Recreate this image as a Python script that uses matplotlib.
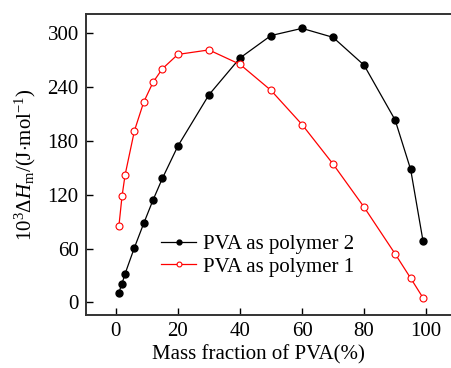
import matplotlib
matplotlib.use('Agg')
import matplotlib.pyplot as plt

plt.rcParams['font.family'] = ['Liberation Serif', 'DejaVu Serif']
plt.rcParams['mathtext.fontset'] = 'custom'
plt.rcParams['mathtext.rm'] = 'Liberation Serif'
plt.rcParams['mathtext.it'] = 'Liberation Serif:italic'
plt.rcParams['mathtext.bf'] = 'Liberation Serif:bold'

# PVA as polymer 2 (black, filled)
x_p2 = [1, 2, 3, 6, 9, 12, 15, 20, 30, 40, 50, 60, 70, 80, 90, 95, 99]
y_p2 = [11, 21, 32, 61, 88, 114, 138, 174, 231, 272, 297, 305, 295, 264, 203, 148, 68]

# PVA as polymer 1 (red, open)
x_p1 = [1, 2, 3, 6, 9, 12, 15, 20, 30, 40, 50, 60, 70, 80, 90, 95, 99]
y_p1 = [85, 118, 142, 191, 223, 245, 260, 276, 281, 265, 236, 198, 154, 106, 54, 27, 5]

xticks = [0, 20, 40, 60, 80, 100]
yticks = [0, 60, 120, 180, 240, 300]

fs = 15

fig = plt.figure(figsize=(4.51, 3.68), dpi=100)
ax = fig.add_axes([0.19, 0.144, 0.81, 0.818])

ax.plot(x_p2, y_p2, color='black', lw=0.9, marker='o', ms=5,
        mfc='black', mec='black', label='PVA as polymer 2')
ax.plot(x_p1, y_p1, color='red', lw=0.9, marker='o', ms=5,
        mfc='white', mec='red', mew=0.8, label='PVA as polymer 1')

ax.set_xlim(-9.7, 108)
ax.set_ylim(-14, 321)
ax.set_xticks(xticks)
ax.set_yticks(yticks)
ax.tick_params(direction='in', length=5, width=1, labelsize=fs, pad=5)
for s in ['left', 'bottom', 'top']:
    ax.spines[s].set_linewidth(1.4)
    ax.spines[s].set_color('#333333')
ax.spines['right'].set_visible(False)

ax.set_xlabel('Mass fraction of PVA(%)', fontsize=fs, labelpad=4)
ax.xaxis.set_label_coords(0.474, -0.1, transform=ax.transAxes)
ax.xaxis.label.set_verticalalignment('top')
ax.set_ylabel(r'$10^3\Delta H_\mathrm{m}$/(J$\cdot$mol$^{-1}$)', fontsize=fs, labelpad=7)

ax.legend(loc='lower left', bbox_to_anchor=(0.155, 0.065), frameon=False,
          fontsize=fs, handlelength=1.7, markerscale=0.7,
          handletextpad=0.33, labelspacing=0.15)

fig.savefig('out.png', dpi=100)
